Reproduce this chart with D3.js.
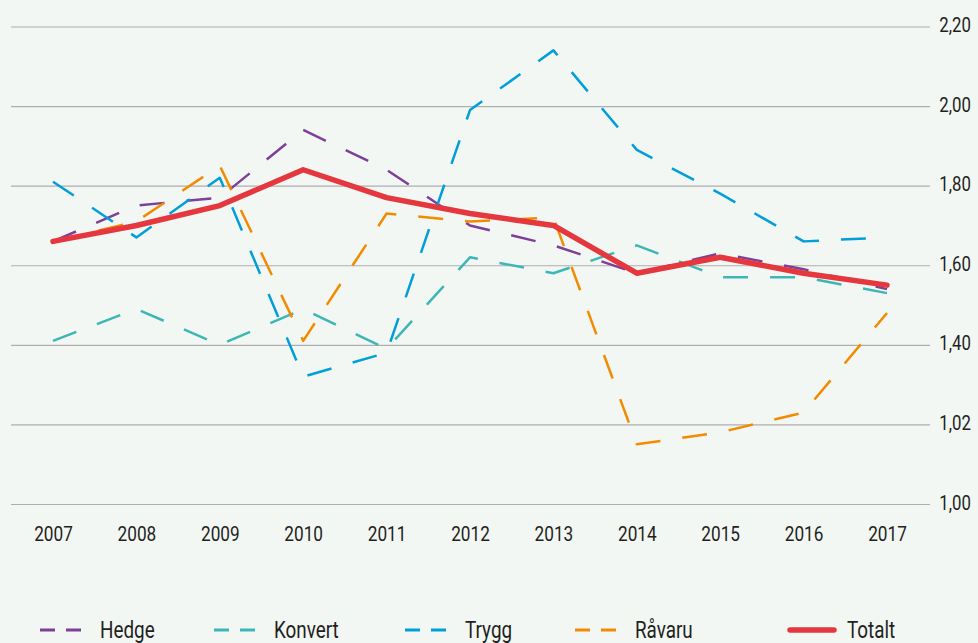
<!DOCTYPE html>
<html>
<head>
<meta charset="utf-8">
<script src="https://cdn.jsdelivr.net/npm/d3@7"></script>
<style>
  html, body { margin: 0; padding: 0; background: #f3f7f4; }
  svg { display: block; }
  text { font-family: Roboto, "Liberation Sans", sans-serif; fill: #231f20; }
</style>
</head>
<body>
<div id="chart"></div>
<script>
// Years along the x axis.
const years = [2007, 2008, 2009, 2010, 2011, 2012, 2013, 2014, 2015, 2016, 2017];

// Series values.
const hedge = [1.66, 1.75, 1.77, 1.94, 1.84, 1.70, 1.65, 1.58, 1.63, 1.59, 1.54];
const konvert = [1.41, 1.49, 1.40, 1.49, 1.39, 1.62, 1.58, 1.65, 1.57, 1.57, 1.53];
const trygg = [1.81, 1.67, 1.82, 1.32, 1.38, 1.99, 2.14, 1.89, 1.78, 1.66, 1.67];
const ravaru = [1.66, 1.71, 1.85, 1.41, 1.73, 1.71, 1.72, 1.15, 1.18, 1.23, 1.48];
const totalt = [1.66, 1.70, 1.75, 1.84, 1.77, 1.73, 1.70, 1.58, 1.62, 1.58, 1.55];

// Y ticks and the labels printed next to them (as in the original).
const yTicks = [1.0, 1.2, 1.4, 1.6, 1.8, 2.0, 2.2];
const yTickLabels = ['1,00', '1,02', '1,40', '1,60', '1,80', '2,00', '2,20'];

const seriesNames = ['Hedge', 'Konvert', 'Trygg', 'Råvaru', 'Totalt'];
const seriesValues = [hedge, konvert, trygg, ravaru, totalt];
const seriesColors = ['#7d3f98', '#3cb7b6', '#009fd9', '#f28b00', '#e5373e'];

const width = 978,
  height = 643;

// The original uses a condensed face; squeeze the text horizontally.
const squeeze = 0.82;

const svg = d3
  .select('#chart')
  .append('svg')
  .attr('width', width)
  .attr('height', height);

const x = d3.scaleLinear().domain([2007, 2017]).range([53, 887]);
const y = d3.scaleLinear().domain([1.0, 2.2]).range([504, 26.5]);

// Gridlines + right-hand labels.
const yAxis = d3
  .axisRight(y)
  .tickValues(yTicks)
  .tickSize(919)
  .tickFormat((d, i) => yTickLabels[i]);

svg
  .append('g')
  .attr('transform', 'translate(11,0)')
  .call(yAxis)
  .call(g => g.select('.domain').remove())
  .call(g =>
    g.selectAll('.tick line').attr('stroke', '#aeaeae').attr('stroke-width', 1.2)
  )
  .call(g =>
    g
      .selectAll('.tick text')
      .attr('x', 0)
      .attr('dy', '0.3em')
      .attr('transform', 'translate(960,-1) scale(' + squeeze + ',1)')
      .attr('text-anchor', 'end')
      .style('font-size', '20.5px')
  );

// Year labels.
const xAxis = d3
  .axisBottom(x)
  .tickValues(years)
  .tickSize(0)
  .tickFormat(d3.format('d'));

svg
  .append('g')
  .attr('transform', 'translate(0,504)')
  .call(xAxis)
  .call(g => g.select('.domain').remove())
  .call(g =>
    g
      .selectAll('.tick text')
      .attr('y', 37.5)
      .attr('dy', 0)
      .attr('transform', 'scale(' + squeeze + ',1)')
      .style('font-size', '21px')
  );

// Lines.
const line = d3
  .line()
  .x((d, i) => x(years[i]))
  .y(d => y(d));

svg
  .append('g')
  .selectAll('path')
  .data(seriesValues)
  .join('path')
  .attr('fill', 'none')
  .attr('stroke', (d, i) => seriesColors[i])
  .attr('stroke-width', (d, i) => (i === 4 ? 5.5 : 2.5))
  .attr('stroke-dasharray', (d, i) => (i === 4 ? null : '25,22'))
  .attr('stroke-linejoin', 'round')
  .attr('stroke-linecap', (d, i) => (i === 4 ? 'round' : 'butt'))
  .attr('d', line);

// Legend.
const legendX = [40, 214, 405, 575, 790];
const legend = svg
  .append('g')
  .selectAll('g')
  .data(seriesNames)
  .join('g')
  .attr('transform', (d, i) => 'translate(' + legendX[i] + ',630)');

legend
  .append('line')
  .attr('x1', 0)
  .attr('x2', (d, i) => (i === 4 ? 44 : 42))
  .attr('stroke', (d, i) => seriesColors[i])
  .attr('stroke-width', (d, i) => (i === 4 ? 5.5 : 3))
  .attr('stroke-linecap', (d, i) => (i === 4 ? 'round' : 'butt'))
  .attr('stroke-dasharray', (d, i) => (i === 4 ? null : '15,11'));

legend
  .append('text')
  .attr('x', 0)
  .attr('y', 0)
  .attr(
    'transform',
    (d, i) => 'translate(' + (i === 4 ? 57 : 60) + ',8) scale(' + squeeze + ',1)'
  )
  .style('font-size', '23px')
  .text(d => d);
</script>
</body>
</html>
